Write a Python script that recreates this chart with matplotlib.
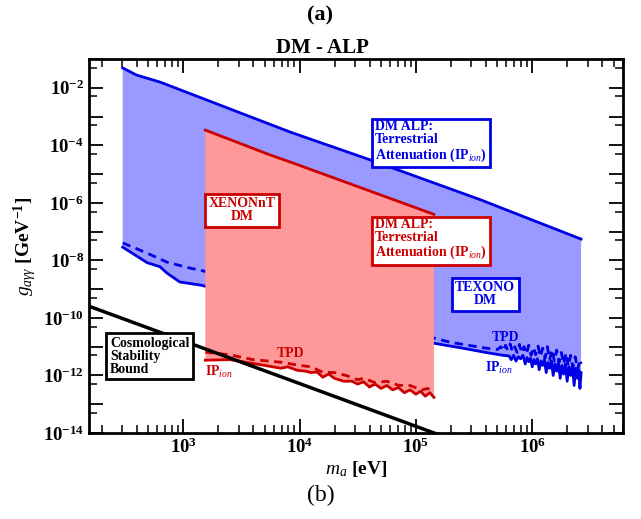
import numpy as np
import matplotlib.pyplot as plt
from matplotlib.ticker import LogLocator, FuncFormatter, NullFormatter

plt.rcParams['font.family'] = 'Liberation Serif'
plt.rcParams['mathtext.fontset'] = 'custom'
plt.rcParams['mathtext.rm'] = 'Liberation Serif'
plt.rcParams['mathtext.bf'] = 'Liberation Serif:bold'
plt.rcParams['mathtext.it'] = 'Liberation Serif:italic'

# values, as log10(m_a / eV) and log10(g / GeV^-1)
texono_top_logm = [2.48, 2.60, 2.80, 3.92, 4.61, 5.56, 6.42]
texono_top_logg = [-1.31, -1.56, -1.80, -3.54, -4.51, -5.90, -7.26]

texono_ip_logm = [2.48, 2.69, 2.80, 2.86, 2.97, 3.15, 3.6, 4.2, 4.7, 5.155, 5.4, 5.6, 5.75,
                  5.80, 5.82, 5.84, 5.86, 5.88, 5.90, 5.92, 5.94, 5.955, 5.97, 5.985, 6.0,
                  6.015, 6.03, 6.045, 6.06, 6.075, 6.09, 6.105, 6.12, 6.135, 6.15, 6.165,
                  6.18, 6.195, 6.21, 6.225, 6.24, 6.255, 6.27, 6.285, 6.3, 6.315, 6.33,
                  6.345, 6.36, 6.375, 6.39, 6.40, 6.41, 6.42]
texono_ip_logg = [-7.54, -8.08, -8.22, -8.44, -8.75, -8.86, -9.3, -9.8, -10.4, -10.88, -11.05,
                  -11.2, -11.3,
                  -11.32, -11.45, -11.3, -11.5, -11.35, -11.42, -11.3, -11.6, -11.38, -11.52,
                  -11.4, -11.7, -11.45, -11.6, -11.42, -11.8, -11.5, -11.65, -11.45, -11.9,
                  -11.55, -11.75, -11.5, -12.0, -11.6, -11.85, -11.55, -12.1, -11.65, -11.95,
                  -11.6, -12.2, -11.7, -12.0, -11.65, -12.35, -11.75, -12.1, -11.8, -12.45,
                  -11.9]

texono_tpd_logm = [2.48, 2.69, 2.86, 3.06, 3.15, 5.155, 5.3, 5.45, 5.6, 5.7,
                   5.73, 5.75, 5.77, 5.79, 5.81, 5.83, 5.85, 5.87, 5.89, 5.91, 5.93, 5.95,
                   5.97, 5.99, 6.01, 6.03, 6.05, 6.07, 6.09, 6.11, 6.13, 6.15, 6.17, 6.19,
                   6.21, 6.23, 6.25, 6.27, 6.29, 6.31, 6.33, 6.35, 6.37, 6.39, 6.41, 6.42]
texono_tpd_logg = [-7.39, -7.75, -8.06, -8.27, -8.34, -10.70, -10.85, -10.95, -11.05, -11.1,
                   -11.0, -11.15, -10.95, -11.12, -10.9, -11.18, -11.0, -11.2, -10.92, -11.22,
                   -11.0, -11.25, -10.95, -11.3, -11.02, -11.28, -10.98, -11.35, -11.05, -11.4,
                   -11.0, -11.45, -11.1, -11.5, -11.12, -11.55, -11.2, -11.6, -11.22, -11.68,
                   -11.3, -11.72, -11.35, -11.8, -11.45, -11.6]

xenon_top_logm = [3.19, 3.75, 3.92, 5.155]
xenon_top_logg = [-3.47, -4.34, -4.58, -6.40]

xenon_ip_logm = [3.19, 3.4, 3.55, 3.7, 3.84, 3.9, 3.98, 4.05, 4.1, 4.15, 4.2, 4.25, 4.3, 4.38,
                 4.45, 4.5, 4.55, 4.6, 4.65, 4.7, 4.75, 4.8, 4.85, 4.9, 4.95, 5.0, 5.04, 5.08,
                 5.12, 5.155]
xenon_ip_logg = [-11.47, -11.45, -11.55, -11.65, -11.75, -11.7, -11.82, -11.85, -11.9, -11.88,
                 -12.06, -11.95, -12.1, -12.2, -12.2, -12.3, -12.22, -12.4, -12.3, -12.45,
                 -12.35, -12.5, -12.42, -12.6, -12.5, -12.65, -12.55, -12.72, -12.6, -12.76]

xenon_tpd_logm = [3.19, 3.4, 3.6, 3.84, 4.0, 4.1, 4.2, 4.3, 4.4, 4.5, 4.55, 4.65, 4.75, 4.85,
                  4.95, 5.05, 5.1, 5.155]
xenon_tpd_logg = [-11.19, -11.28, -11.45, -11.54, -11.65, -11.7, -11.89, -11.9, -12.0, -12.15,
                  -12.1, -12.25, -12.2, -12.34, -12.35, -12.5, -12.45, -12.58]

cosmo_logm = [2.0, 5.5]
cosmo_logg = [-9.31, -14.51]

BLUE = '#0000e6'
BLUE_FILL = '#9999ff'
RED = '#cc0000'
RED_FILL = '#ff9999'


def p(v):
    return 10 ** np.array(v)


fig = plt.figure(figsize=(6.41, 5.19), dpi=100)
ax = fig.add_axes([0.1388, 0.1657, 0.8331, 0.7206])

# TEXONO band
ax.fill(np.concatenate([p(texono_top_logm), p(texono_ip_logm)[::-1]]),
        np.concatenate([p(texono_top_logg), p(texono_ip_logg)[::-1]]),
        color=BLUE_FILL, lw=0, zorder=1)
ax.plot(p(texono_top_logm), p(texono_top_logg), color=BLUE, lw=2, zorder=2)
ax.plot(p(texono_ip_logm), p(texono_ip_logg), color=BLUE, lw=2, zorder=2)
ax.plot(p(texono_tpd_logm), p(texono_tpd_logg), color=BLUE, lw=2, ls=(0, (3, 2)), zorder=2)

# XENONnT band
ax.fill(np.concatenate([p(xenon_top_logm), p(xenon_ip_logm)[::-1]]),
        np.concatenate([p(xenon_top_logg), p(xenon_ip_logg)[::-1]]),
        color=RED_FILL, lw=0, zorder=3)
ax.plot(p(xenon_top_logm), p(xenon_top_logg), color=RED, lw=2, zorder=4)
ax.plot(p(xenon_ip_logm), p(xenon_ip_logg), color=RED, lw=2, zorder=4)
ax.plot(p(xenon_tpd_logm), p(xenon_tpd_logg), color=RED, lw=2, ls=(0, (3, 2)), zorder=4)

# cosmological stability bound
ax.plot(p(cosmo_logm), p(cosmo_logg), color='black', lw=2.5, zorder=5)

ax.set_xscale('log')
ax.set_yscale('log')
ax.set_xlim(10 ** 2.19, 10 ** 6.78)
ax.set_ylim(1e-14, 1e-1)

ax.xaxis.set_major_locator(LogLocator(base=10, numticks=20))
ax.xaxis.set_minor_locator(LogLocator(base=10, subs=np.arange(2, 10), numticks=20))
ax.xaxis.set_major_formatter(FuncFormatter(lambda v, pos: r'$\mathbf{10^{%d}}$' % round(np.log10(v))))
ax.xaxis.set_minor_formatter(NullFormatter())
ax.yaxis.set_major_locator(LogLocator(base=10, numticks=30))
ax.yaxis.set_minor_locator(LogLocator(base=10, subs=[5.0], numticks=30))


def yfmt(v, pos):
    e = int(round(np.log10(v)))
    if e % 2 == 0:
        return r'$\mathbf{10^{%d}}$' % e
    return ''


ax.yaxis.set_major_formatter(FuncFormatter(yfmt))
ax.yaxis.set_minor_formatter(NullFormatter())
ax.tick_params(which='both', direction='in', top=True, right=True, labelsize=13.5)
ax.tick_params(which='major', length=10, width=1.3)
ax.tick_params(which='minor', length=6, width=1.1)
for s in ax.spines.values():
    s.set_linewidth(2)
    s.set_zorder(10)

ax.set_xlabel(r'$m_a$ [eV]', fontsize=14, fontweight='bold', labelpad=1)
ax.set_ylabel(r'$g_{a\gamma\gamma}$ [GeV$^{\mathbf{-1}}$]', fontsize=14, fontweight='bold', labelpad=3)

fig.text(0.5, 0.971, '(a)', ha='center', va='center', fontsize=16, fontweight='bold')
fig.text(0.503, 0.908, 'DM - ALP', ha='center', va='center', fontsize=15, fontweight='bold')
fig.text(0.5, 0.046, '(b)', ha='center', va='center', fontsize=17)

box_kw = dict(boxstyle='square,pad=0.25', facecolor='white', lw=2)
txt_kw = dict(fontsize=10, fontweight='bold', linespacing=1.0, zorder=7)
ax.text(10 ** 2.37, 10 ** -11.33, 'Cosmological\nStability\nBound',
        ha='left', va='center', bbox=dict(box_kw, edgecolor='black'), **txt_kw)
ax.text(10 ** 3.509, 10 ** -6.25, 'XENONnT\nDM', color=RED,
        ha='center', va='center', multialignment='center',
        bbox=dict(box_kw, edgecolor=RED), **txt_kw)
ax.text(10 ** 4.65, 10 ** -3.89, 'DM ALP:\nTerrestrial\nAttenuation (IP$_{\\mathit{ion}}$)',
        color=BLUE, ha='left', va='center', bbox=dict(box_kw, edgecolor=BLUE), **txt_kw)
ax.text(10 ** 4.65, 10 ** -7.28, 'DM ALP:\nTerrestrial\nAttenuation (IP$_{\\mathit{ion}}$)',
        color=RED, ha='left', va='center', bbox=dict(box_kw, edgecolor=RED), **txt_kw)
ax.text(10 ** 5.595, 10 ** -9.17, 'TEXONO\nDM', color=BLUE,
        ha='center', va='center', multialignment='center',
        bbox=dict(box_kw, edgecolor=BLUE), **txt_kw)
ax.text(10 ** 5.767, 10 ** -10.67, 'TPD', color=BLUE, ha='center', va='center', **txt_kw)
ax.text(10 ** 5.716, 10 ** -11.75, r'IP$_{\mathit{ion}}$', color=BLUE,
        ha='center', va='center', **txt_kw)
ax.text(10 ** 3.922, 10 ** -11.23, 'TPD', color=RED, ha='center', va='center', **txt_kw)
ax.text(10 ** 3.19, 10 ** -11.89, r'IP$_{\mathit{ion}}$', color=RED,
        ha='left', va='center', **txt_kw)

fig.savefig('out.png', dpi=100)
